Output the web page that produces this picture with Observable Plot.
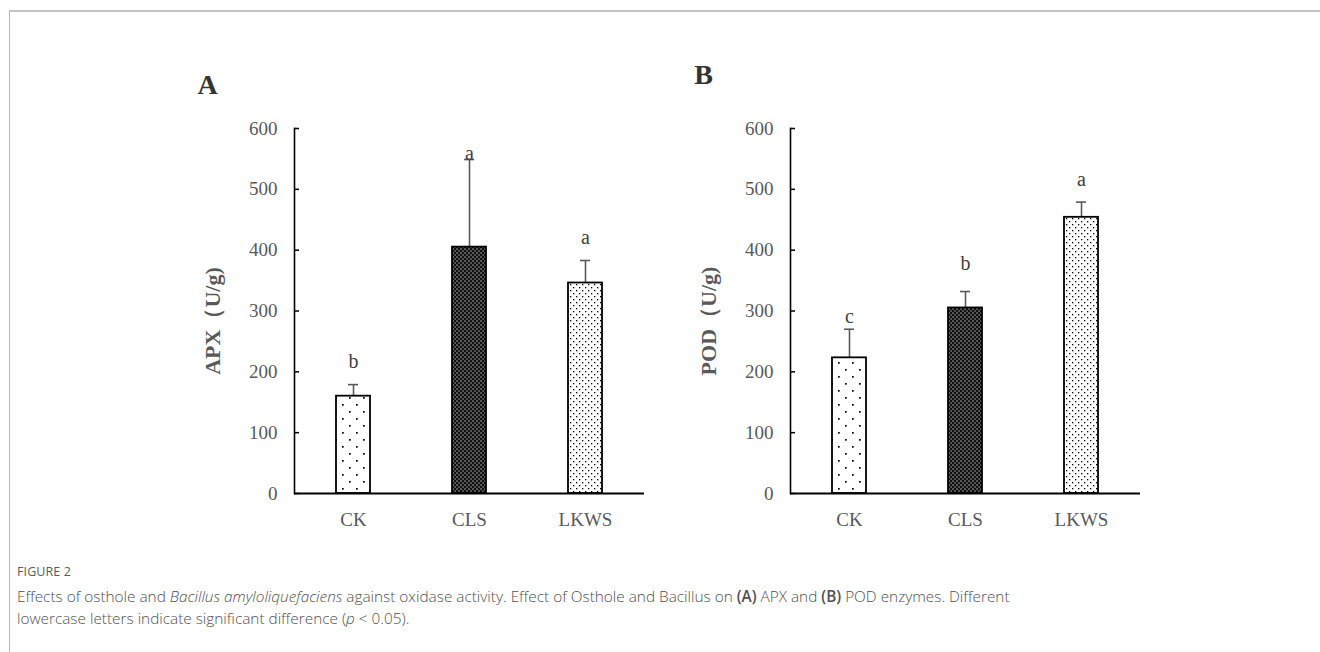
<!DOCTYPE html>
<html>
<head>
<meta charset="utf-8">
<script src="https://cdn.jsdelivr.net/npm/d3@7"></script>
<script src="https://cdn.jsdelivr.net/npm/@observablehq/plot@0.6"></script>
<style>
  html, body { margin: 0; padding: 0; background: #fff; }
  #page { position: relative; width: 1320px; height: 652px; overflow: hidden; }
  #frame { position: absolute; left: 9px; top: 10px; right: -5px; bottom: -5px;
           border-top: 2px solid #c4c4c4; border-left: 1.5px solid #b8b8b8; }
  .panel { position: absolute; top: 100px; }
  #panelA { left: 164px; }
  #panelB { left: 660px; }
  #caption { position: absolute; left: 17px; top: 563px; font-family: "Open Sans", sans-serif; color: #555; }
  #caption .fig { font-size: 12.5px; letter-spacing: 0.1px; margin-bottom: 5px; color: #5a5a5a; }
  #caption .txt { font-size: 15.35px; line-height: 22px; font-weight: 300; color: #505050; }
</style>
</head>
<body>
<div id="page">
  <div id="frame"></div>
  <svg width="0" height="0" style="position:absolute">
    <defs>
      <pattern id="patCK" width="14" height="14" patternUnits="userSpaceOnUse">
        <rect width="14" height="14" fill="#fff"/>
        <rect x="3" y="3" width="1.7" height="1.7" fill="#000"/>
        <rect x="10" y="10" width="1.7" height="1.7" fill="#000"/>
      </pattern>
      <pattern id="patCLS" width="4" height="4" patternUnits="userSpaceOnUse">
        <rect width="4" height="4" fill="#111"/>
        <rect x="0.5" y="0.5" width="1.1" height="1.1" fill="#fff"/>
        <rect x="2.5" y="2.5" width="1.1" height="1.1" fill="#ddd"/>
      </pattern>
      <pattern id="patLKWS" width="6" height="6" patternUnits="userSpaceOnUse">
        <rect width="6" height="6" fill="#fff"/>
        <rect x="1" y="1" width="1.3" height="1.3" fill="#000"/>
        <rect x="4" y="4" width="1.3" height="1.3" fill="#000"/>
      </pattern>
    </defs>
  </svg>
  <div id="panelA" class="panel"></div>
  <div id="panelB" class="panel"></div>
  <div id="caption">
    <div class="fig">FIGURE 2</div>
    <div class="txt">Effects of osthole and <i>Bacillus amyloliquefaciens</i> against oxidase activity. Effect of Osthole and Bacillus on <b style="font-weight:600">(A)</b> APX and <b style="font-weight:600">(B)</b> POD enzymes. Different<br>lowercase letters indicate significant difference (<i>p</i> &lt; 0.05).</div>
  </div>
</div>
<script>
// ---- data ----
const groups = ["CK", "CLS", "LKWS"];
const apxMean = [160, 405, 346];
const apxErr = [19, 144, 37];
const apxLetters = ["b", "a", "a"];
const podMean = [223, 305, 454];
const podErr = [47, 27, 25];
const podLetters = ["c", "b", "a"];
const yTicks = [0, 100, 200, 300, 400, 500, 600];

function panel(means, errs, letters, letterGap, yLabel, panelLetter, letterDx, letterDy) {
  const data = groups.map((g, i) => ({group: g, mean: means[i], err: errs[i], letter: letters[i], gap: letterGap[i]}));
  const W = 496, ML = 130, MR = 16;
  const innerW = W - ML - MR;
  const serif = "Liberation Serif, Times New Roman, serif";
  return Plot.plot({
    width: W,
    height: 450,
    marginLeft: ML,
    marginRight: MR,
    marginTop: 28,
    marginBottom: 57,
    style: {fontFamily: serif, fontSize: "19px", color: "#595959", background: "transparent", overflow: "visible"},
    x: {domain: groups, paddingInner: 0.71, paddingOuter: 0.355, label: null},
    y: {domain: [0, 600], label: null},
    color: {domain: groups, range: ["url(#patCK)", "url(#patCLS)", "url(#patLKWS)"]},
    marks: [
      Plot.axisX({tickSize: 0, tickPadding: 19, label: null, fontSize: 19}),
      Plot.axisY({ticks: yTicks, tickSize: 0, tickPadding: 17, label: null, fontSize: 19}),
      Plot.ruleY(yTicks, {stroke: "#000", strokeWidth: 1.5, insetRight: innerW - 5}),
      Plot.ruleX(data, {x: "group", y1: "mean", y2: d => d.mean + d.err, stroke: "#5a5a5a", strokeWidth: 1.6}),
      Plot.barY(data, {x: "group", y: "mean", fill: "group", stroke: "#000", strokeWidth: 1.8}),
      Plot.tickY(data, {x: "group", y: d => d.mean + d.err, stroke: "#5a5a5a", strokeWidth: 1.6, insetLeft: 12, insetRight: 12}),
      Plot.frame({anchor: "left", stroke: "#000", strokeWidth: 1.6}),
      Plot.ruleY([0], {stroke: "#000", strokeWidth: 2}),
      ...data.map(d => Plot.text([d], {x: "group", y: e => e.mean + e.err, text: "letter", fontSize: 20, fill: "#404040", dy: -d.gap - 6.4})),
      Plot.text([yLabel], {frameAnchor: "left", text: d => d, rotate: -90, textAnchor: "middle", lineAnchor: "middle", dx: -82, dy: 10, fontSize: 22, fontWeight: "bold", fill: "#595959"}),
      Plot.text([panelLetter], {frameAnchor: "top-left", text: d => d, textAnchor: "middle", lineAnchor: "middle", dx: letterDx, dy: letterDy, fontSize: 28, fontWeight: "bold", fill: "#333"})
    ]
  });
}

document.getElementById("panelA").append(panel(apxMean, apxErr, apxLetters, [17, 0, 17], "APX（U/g)", "A", -87, -43));
document.getElementById("panelB").append(panel(podMean, podErr, podLetters, [6, 22, 16], "POD（U/g)", "B", -87, -53));
</script>
</body>
</html>
